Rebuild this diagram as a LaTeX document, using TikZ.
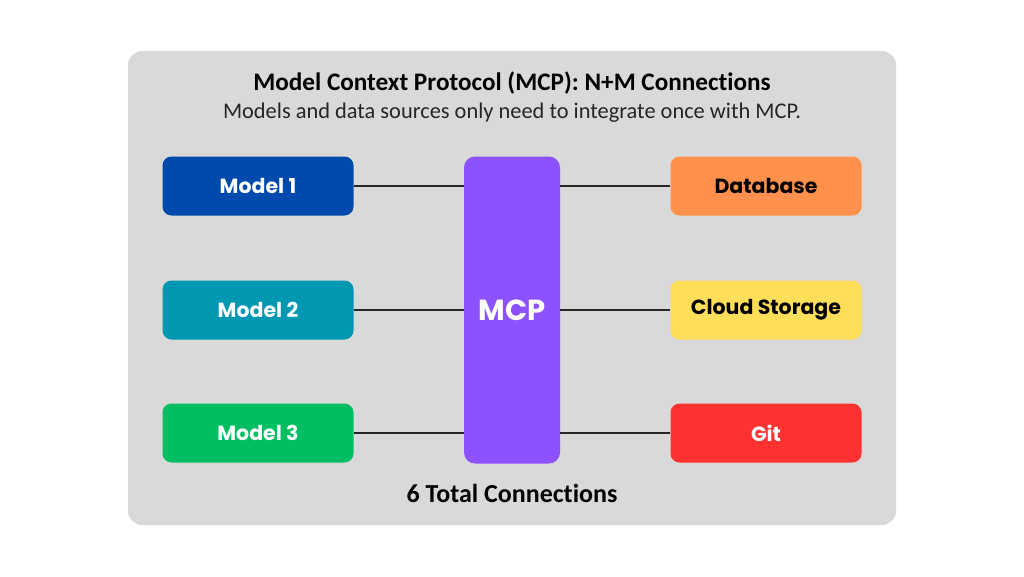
\documentclass[tikz,border=0pt]{standalone}
\usepackage{fontspec}
\setmainfont[Ligatures={NoCommon}]{Carlito}
\newfontfamily\boxfont{Poppins}
\definecolor{panel}{HTML}{D9D9D9}
\definecolor{mblue}{HTML}{004AAD}
\definecolor{mteal}{HTML}{0097B2}
\definecolor{mgreen}{HTML}{00BF63}
\definecolor{mpurple}{HTML}{8C52FF}
\definecolor{morange}{HTML}{FF914D}
\definecolor{myellow}{HTML}{FFDE59}
\definecolor{mred}{HTML}{FF3131}
\tikzset{
  srcbox/.style={rounded corners=9pt, minimum width=191pt, minimum height=59pt, inner sep=0pt, font=\boxfont\bfseries\fontsize{20.5}{22}\selectfont},
  link/.style={draw=black!85, line width=1.4pt},
}
\begin{document}
\begin{tikzpicture}[x=1pt,y=-1pt]
\useasboundingbox[fill=white] (0,0) rectangle (1024,576);
\node[fill=panel, rounded corners=14pt, minimum width=768pt, minimum height=474pt, inner sep=0pt] (panel) at (512,288) {};
\node[font=\bfseries\fontsize{25.2}{28}\selectfont] (title) at (512,83) {Model Context Protocol (MCP): N+M Connections};
\node[font=\fontsize{22.4}{26}\selectfont, text=black!85] (sub) at (512,113) {Models and data sources only need to integrate once with MCP.};
\node[srcbox, fill=mblue, text=white] (m1) at (258,186) {Model 1};
\node[srcbox, fill=mteal, text=white] (m2) at (258,310) {Model 2};
\node[srcbox, fill=mgreen, text=white] (m3) at (258,433) {Model 3};
\node[fill=mpurple, rounded corners=11pt, minimum width=96pt, minimum height=307pt, inner sep=0pt, text=white, font=\boxfont\bfseries\fontsize{29}{32}\selectfont] (mcp) at (512,310) {MCP};
\node[srcbox, fill=morange, text=black] (db) at (766,186) {Database};
\node[srcbox, fill=myellow, text=black] (cs) at (766,310) {Cloud Storage};
\node[srcbox, fill=mred, text=white] (git) at (766,433) {Git};
\draw[link] (m1.east) -- (m1.east -| mcp.west);
\draw[link] (m2.east) -- (m2.east -| mcp.west);
\draw[link] (m3.east) -- (m3.east -| mcp.west);
\draw[link] (db.west -| mcp.east) -- (db.west);
\draw[link] (cs.west -| mcp.east) -- (cs.west);
\draw[link] (git.west -| mcp.east) -- (git.west);
\node[font=\bfseries\fontsize{26}{29}\selectfont] (total) at (512,493) {6 Total Connections};
\end{tikzpicture}
\end{document}
